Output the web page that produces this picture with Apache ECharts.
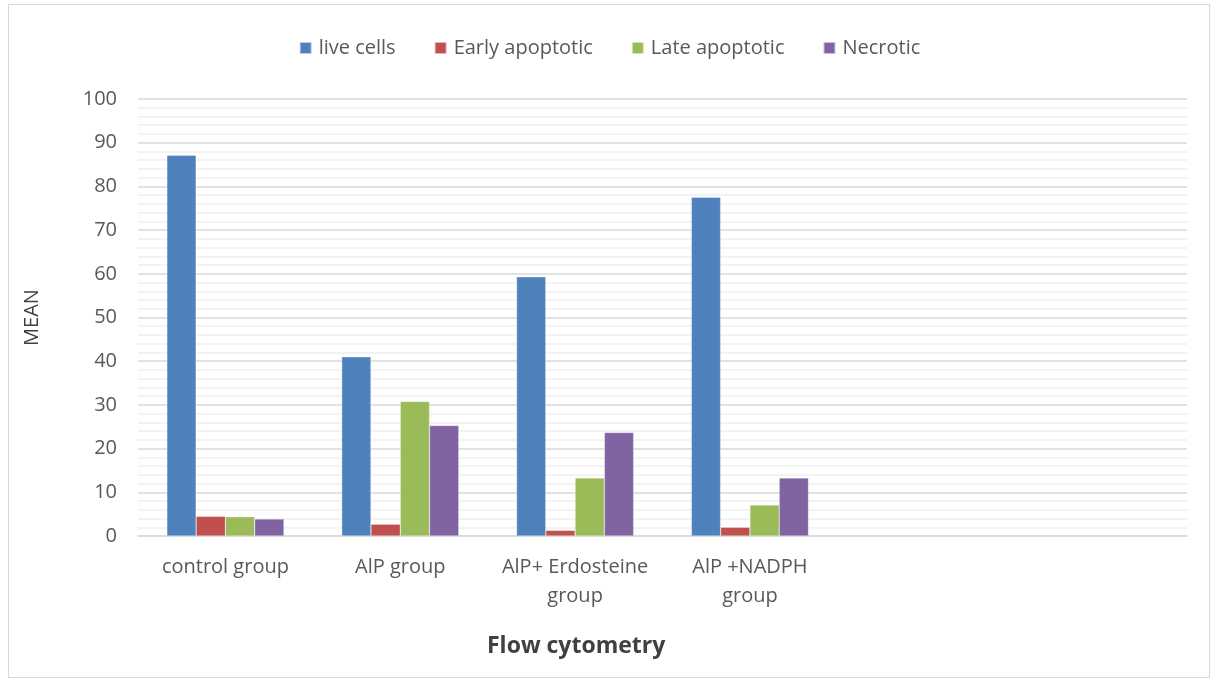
<!DOCTYPE html>
<html><head><meta charset="utf-8">
<script src="https://cdn.jsdelivr.net/npm/echarts@6/dist/echarts.min.js"></script>
<style>html,body{margin:0;padding:0;background:#fff}#c{width:1219px;height:682px}
#frame{position:absolute;left:8px;top:4px;width:1202px;height:674px;border:1px solid #D9D9D9;box-sizing:border-box;pointer-events:none}</style>
</head><body><div id="c"></div><div id="frame"></div>
<script>
const categories = ['control group', 'AlP group', 'AlP+ Erdosteine\ngroup', 'AlP +NADPH\ngroup', '', ''];
const seriesNames = ['live cells', 'Early apoptotic', 'Late apoptotic', 'Necrotic'];
const liveCells = [87.1, 41.0, 59.3, 77.5];
const earlyApoptotic = [4.5, 2.7, 1.3, 2.0];
const lateApoptotic = [4.4, 30.8, 13.3, 7.1];
const necrotic = [3.9, 25.3, 23.7, 13.3];
const colors = ['#4F81BD', '#C0504D', '#9BBB59', '#8064A2'];
const seriesData = [liveCells, earlyApoptotic, lateApoptotic, necrotic];
const xTitle = 'Flow cytometry';
const yTitle = 'MEAN';

const chart = echarts.init(document.getElementById('c'));
chart.setOption({
  animation: false,
  textStyle: {fontFamily: 'Open Sans'},
  legend: {
    top: 33, left: 'center', itemWidth: 12, itemHeight: 12, itemGap: 38,
    icon: 'rect',
    textStyle: {fontSize: 20, color: '#595959', fontFamily: 'Open Sans', padding: [0, 0, 0, 2]},
    data: seriesNames
  },
  grid: {left: 138, right: 32, top: 99, bottom: 146},
  graphic: [{
    type: 'text', left: 487, top: 635,
    style: {text: xTitle, fontSize: 23, fontWeight: 'bold', fill: '#404040', fontFamily: 'Open Sans'}
  }],
  xAxis: {
    type: 'category', data: categories,
    axisLine: {lineStyle: {color: '#D9D9D9', width: 1.5}},
    axisTick: {show: false},
    axisLabel: {interval: 0, fontSize: 20, color: '#595959', margin: 17, lineHeight: 29, fontFamily: 'Open Sans'}
  },
  yAxis: {
    type: 'value', min: 0, max: 100, interval: 10,
    name: yTitle, nameLocation: 'middle', nameGap: 96, nameRotate: 90,
    nameTextStyle: {fontSize: 20, color: '#404040', fontFamily: 'Open Sans'},
    axisLine: {show: false}, axisTick: {show: false},
    axisLabel: {fontSize: 20, color: '#595959', margin: 21, fontFamily: 'Open Sans'},
    splitLine: {lineStyle: {color: '#D9D9D9', width: 1.5}},
    minorTick: {show: false, splitNumber: 5},
    minorSplitLine: {show: true, lineStyle: {color: '#F0F0F0', width: 1.5}}
  },
  series: seriesNames.map((n, i) => ({
    name: n, type: 'bar', data: seriesData[i],
    barGap: '0%', barCategoryGap: '33%',
    itemStyle: {color: colors[i], borderColor: 'rgba(255,255,255,0.6)', borderWidth: 0.5}
  }))
});
</script></body></html>
